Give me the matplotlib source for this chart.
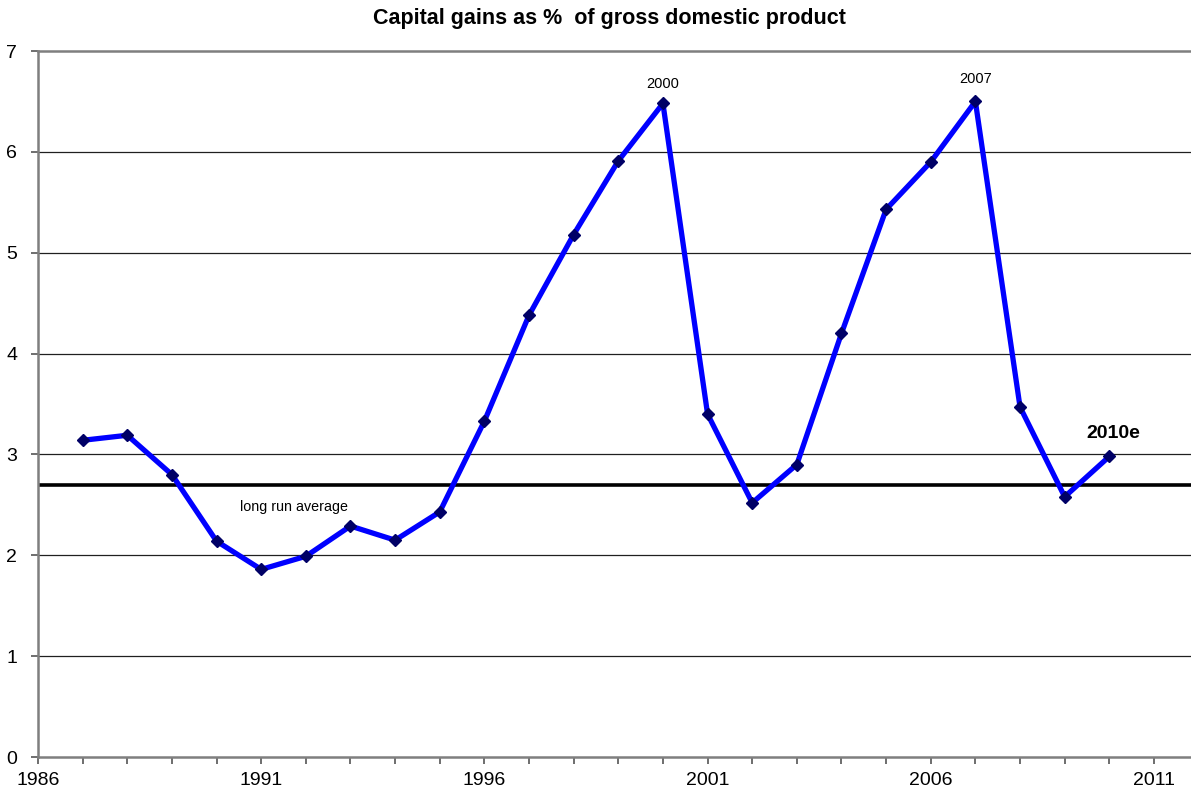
import matplotlib.pyplot as plt
from matplotlib.ticker import MultipleLocator

plt.rcParams['font.family'] = ['Liberation Sans', 'DejaVu Sans']

years = list(range(1987, 2011))
gains = [3.14, 3.19, 2.80, 2.14, 1.86, 1.99, 2.29, 2.15, 2.43, 3.33,
         4.38, 5.18, 5.91, 6.48, 3.40, 2.52, 2.90, 4.20, 5.43, 5.90,
         6.50, 3.47, 2.58, 2.98]
long_run_avg = 2.70

fig = plt.figure(figsize=(11.91, 7.88), dpi=100)
ax = fig.add_axes([38 / 1191, 31 / 788, 1 - 38 / 1191, 706 / 788])

# horizontal grid, drawn under everything else
for v in range(1, 7):
    ax.axhline(v, color='#202020', lw=0.9, zorder=1)

ax.axhline(long_run_avg, color='black', lw=2.6, zorder=2)
ax.plot(years, gains, color='#0000ff', lw=3.8, zorder=3,
        marker='D', markersize=6, markerfacecolor='#000066',
        markeredgecolor='#000066')

ax.set_xlim(1986, 2011.83)
ax.set_ylim(0, 7)
ax.xaxis.set_minor_locator(MultipleLocator(1))
ax.set_xticks([1986, 1991, 1996, 2001, 2006, 2011])
ax.yaxis.set_major_locator(MultipleLocator(1))

ax.spines['right'].set_visible(False)
for s in ['left', 'bottom', 'top']:
    ax.spines[s].set_color('#7f7f7f')
    ax.spines[s].set_linewidth(1.8)

ax.tick_params(axis='both', which='both', direction='out', color='#555555',
               labelsize=14)
ax.tick_params(axis='x', which='major', length=5, width=1.2, pad=6)
ax.tick_params(axis='x', which='minor', length=5, width=1.2)
ax.tick_params(axis='y', which='major', length=5, width=1.2, pad=10)

fig.suptitle('Capital gains as %  of gross domestic product', x=0.512, y=0.99,
             fontsize=15.5, fontweight='bold', va='top')

ax.text(2000, 6.67, '2000', fontsize=10.5, ha='center', va='center')
ax.text(2007, 6.72, '2007', fontsize=10.5, ha='center', va='center')
ax.text(2010.1, 3.21, '2010e', fontsize=14, fontweight='bold',
        ha='center', va='center')
ax.text(1991.73, 2.48, 'long run average', fontsize=10.3, ha='center',
        va='center')

fig.savefig('out.png', dpi=100)
